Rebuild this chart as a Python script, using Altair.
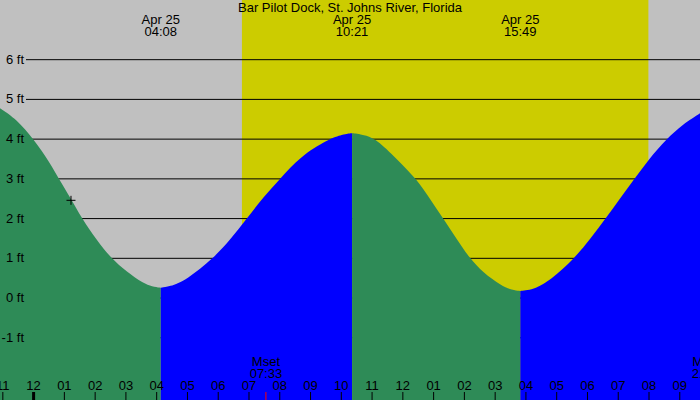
import altair as alt
import pandas as pd

FONT = "Liberation Sans"
FS = 13

# ---- data ----
station = "Bar Pilot Dock, St. Johns River, Florida"

# tide curve (hours since midnight Apr 25, feet), split into falling / rising runs
fall1_h = [-1.10, -0.55, 0.0, 0.53, 0.82, 1.18, 1.57, 2.05, 2.52, 3.03, 3.57, 3.85, 4.133]
fall1_ft = [4.78, 4.50, 4.0, 3.41, 3.0, 2.55, 2.0, 1.46, 1.0, 0.66, 0.37, 0.29, 0.26]
rise1_h = [4.133, 4.4, 4.98, 5.84, 6.38, 6.93, 7.47, 8.01, 8.66, 9.57, 10.07, 10.2, 10.35]
rise1_ft = [0.26, 0.28, 0.46, 1.0, 1.46, 2.0, 2.55, 3.0, 3.56, 4.0, 4.12, 4.14, 4.15]
fall2_h = [10.35, 10.5, 10.75, 11.14, 11.8, 12.44, 12.88, 13.31, 13.74, 14.17, 14.6, 15.2, 15.55, 15.817]
fall2_ft = [4.15, 4.14, 4.10, 4.0, 3.5, 3.0, 2.5, 2.0, 1.5, 1.0, 0.65, 0.31, 0.20, 0.18]
rise2_h = [15.817, 16.05, 16.3, 16.8, 17.58, 18.1, 18.59, 19.05, 19.53, 20.0, 20.56, 21.1, 21.70]
rise2_ft = [0.18, 0.20, 0.24, 0.45, 1.0, 1.5, 2.0, 2.5, 3.0, 3.5, 4.0, 4.38, 4.67]

# extremes labelled at the top
ext_hours = [4.133, 10.35, 15.817]
ext_dates = ["Apr 25", "Apr 25", "Apr 25"]
ext_times = ["04:08", "10:21", "15:49"]

# daylight
sunrise_h = 6.77
sunset_h = 19.98

# moon events
moon_hours = [7.55, 21.92]
moon_events = ["Mset", "Mrise"]
moon_times = ["07:33", "21:55"]

# y levels
ft_levels = [-1, 0, 1, 2, 3, 4, 5, 6]
ft_labels = ["-1 ft", "0 ft", "1 ft", "2 ft", "3 ft", "4 ft", "5 ft", "6 ft"]

# hour ticks
tick_hours = list(range(-1, 22))
tick_labels = ["11", "12", "01", "02", "03", "04", "05", "06", "07", "08", "09", "10",
               "11", "12", "01", "02", "03", "04", "05", "06", "07", "08", "09"]

# current-time marker
now_h = 1.215
now_ft = 2.46

Y_MIN, Y_MAX = -2.566, 7.502
xs = alt.Scale(domain=[-1.092, 21.657], nice=False, zero=False)
ys = alt.Scale(domain=[Y_MIN, Y_MAX], nice=False, zero=False)

day = alt.Chart(pd.DataFrame({"a": [sunrise_h], "b": [sunset_h]})).mark_rect(
    color="#CCCC00").encode(
    x=alt.X("a:Q", scale=xs, axis=None), x2="b:Q",
    y=alt.value(0), y2=alt.value(400))

grid = alt.Chart(pd.DataFrame({"ft": ft_levels})).mark_rule(
    color="black", strokeWidth=1).encode(
    y=alt.Y("ft:Q", scale=ys, axis=None), x=alt.value(26), x2=alt.value(700))


def seg_area(hs, fs, colr):
    df = pd.DataFrame({"h": hs, "ft": fs})
    return alt.Chart(df).mark_area(interpolate="basis", color=colr, opacity=1).encode(
        x=alt.X("h:Q", scale=xs, axis=None),
        y=alt.Y("ft:Q", scale=ys, axis=None),
        y2=alt.datum(Y_MIN))


areas = [seg_area(fall1_h, fall1_ft, "#2E8B57"), seg_area(rise1_h, rise1_ft, "#0000FF"),
         seg_area(fall2_h, fall2_ft, "#2E8B57"), seg_area(rise2_h, rise2_ft, "#0000FF")]

txt = dict(fontSize=FS, font=FONT, color="black")

ylab = alt.Chart(pd.DataFrame({"ft": ft_levels, "t": ft_labels})).mark_text(
    align="right", baseline="middle", **txt).encode(
    y=alt.Y("ft:Q", scale=ys, axis=None), x=alt.value(24), text="t:N")

ticks_df = pd.DataFrame({"h": tick_hours, "t": tick_labels})
ticks = alt.Chart(ticks_df).mark_rule(color="black", strokeWidth=1).encode(
    x=alt.X("h:Q", scale=xs, axis=None), y=alt.value(392), y2=alt.value(400))
midnight = alt.Chart(pd.DataFrame({"h": [0]})).mark_rule(color="black", strokeWidth=3).encode(
    x=alt.X("h:Q", scale=xs, axis=None), y=alt.value(392), y2=alt.value(400))
tlab = alt.Chart(ticks_df).mark_text(align="center", baseline="alphabetic", **txt).encode(
    x=alt.X("h:Q", scale=xs, axis=None), y=alt.value(389.5), text="t:N")

title = alt.Chart(pd.DataFrame({"t": [station]})).mark_text(
    align="center", baseline="alphabetic", **txt).encode(
    x=alt.value(350), y=alt.value(12), text="t:N")

ext_df = pd.DataFrame({"h": ext_hours, "d": ext_dates, "t": ext_times})
ext1 = alt.Chart(ext_df).mark_text(align="center", baseline="alphabetic", **txt).encode(
    x=alt.X("h:Q", scale=xs, axis=None), y=alt.value(24), text="d:N")
ext2 = alt.Chart(ext_df).mark_text(align="center", baseline="alphabetic", **txt).encode(
    x=alt.X("h:Q", scale=xs, axis=None), y=alt.value(35.7), text="t:N")

moon_df = pd.DataFrame({"h": moon_hours, "e": moon_events, "t": moon_times})
moon1 = alt.Chart(moon_df).mark_text(align="center", baseline="alphabetic", **txt).encode(
    x=alt.X("h:Q", scale=xs, axis=None), y=alt.value(366), text="e:N")
moon2 = alt.Chart(moon_df).mark_text(align="center", baseline="alphabetic", **txt).encode(
    x=alt.X("h:Q", scale=xs, axis=None), y=alt.value(377.7), text="t:N")
moontick = alt.Chart(pd.DataFrame({"h": moon_hours[:1]})).mark_rule(color="red", strokeWidth=1).encode(
    x=alt.X("h:Q", scale=xs, axis=None), y=alt.value(392), y2=alt.value(400))

cross = alt.Chart(pd.DataFrame({"h": [now_h], "ft": [now_ft]})).mark_point(
    shape="M-1,0L1,0M0,-1L0,1", size=81, filled=False, color="black", strokeWidth=1, opacity=1).encode(
    x=alt.X("h:Q", scale=xs, axis=None), y=alt.Y("ft:Q", scale=ys, axis=None))

chart = alt.layer(day, grid, *areas, ylab, ticks, midnight, moontick, tlab, title, ext1, ext2,
                  moon1, moon2, cross).properties(
    width=700, height=400, padding=0,
    autosize=alt.AutoSizeParams(type="none"),
    background="#C0C0C0").configure_view(stroke=None)

chart.save("out.html", embed_options={"renderer": "svg", "actions": False})
